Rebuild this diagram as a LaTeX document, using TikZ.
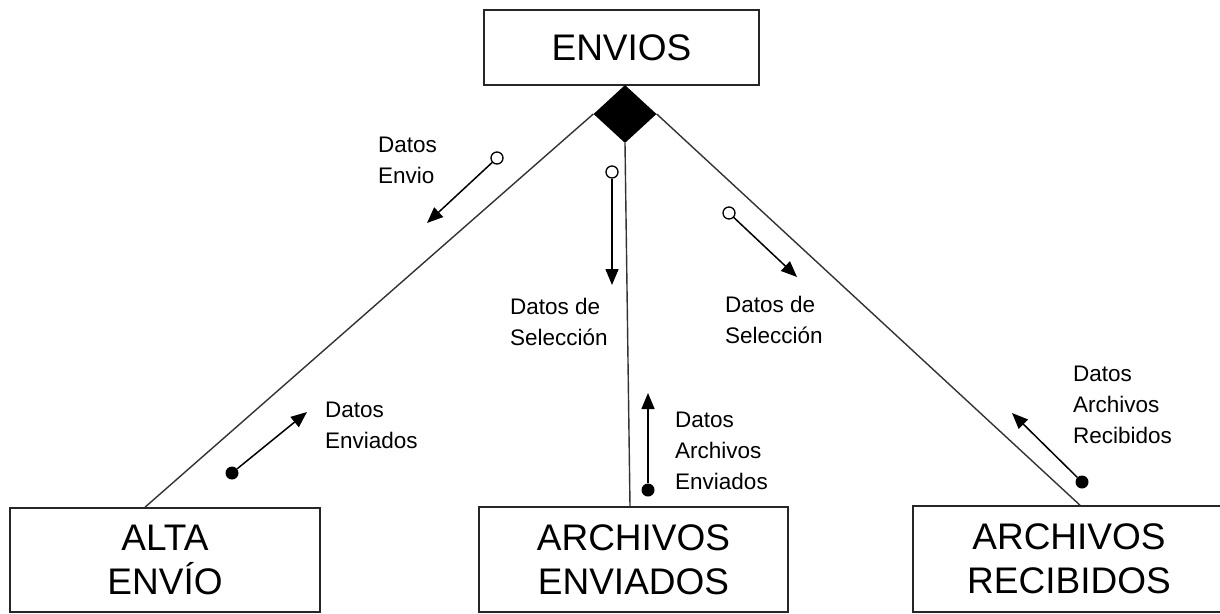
\documentclass[tikz,border=0pt]{standalone}
\usepackage{fontspec}
\setmainfont{Liberation Sans}
\usetikzlibrary{shapes.geometric,arrows.meta}
\begin{document}
\begin{tikzpicture}[x=1pt,y=-1pt,
 box/.style={draw=black!85,line width=1.6pt,inner sep=0pt,align=center,font=\fontsize{37}{44}\selectfont},
 conn/.style={draw=black!80,line width=1.4pt},
 flow/.style={line width=1.5pt,-{Triangle[length=16pt,width=13pt]}},
 ocirc/.style={circle,draw,line width=1.3pt,fill=white,inner sep=0pt,minimum size=12pt},
 fdot/.style={circle,fill=black,inner sep=0pt,minimum size=13pt},
 lbl/.style={anchor=base west,align=left,inner sep=0pt,font=\fontsize{22.5}{31}\selectfont}]
\clip (0,0) rectangle (1220,613);
\fill[white] (0,0) rectangle (1220,613);

\node[box,minimum width=275pt,minimum height=75pt] (envios) at (621.5,47.5) {ENVIOS};
\node[box,minimum width=310pt,minimum height=104pt] (alta) at (165,560) {ALTA\\ENVÍO};
\node[box,minimum width=309pt,minimum height=105pt] (ae) at (633.5,559.5) {ARCHIVOS\\ENVIADOS};
\node[box,minimum width=312pt,minimum height=106pt] (ar) at (1069,559) {ARCHIVOS\\RECIBIDOS};
\node[diamond,fill=black,inner sep=0pt,minimum width=63pt,minimum height=58pt] (dia) at (625,114) {};

\draw[conn] (dia.west) -- ([xshift=-20pt]alta.north);
\draw[conn] (dia.south) -- ([xshift=-3.5pt]ae.north);
\draw[conn] (dia.east) -- ([xshift=11pt]ar.north);

\node[ocirc] (o1) at (497,158) {};
\coordinate (t1) at (427,223);
\draw[flow] (o1) -- (t1);
\node[lbl] (l1) at (378,183) {Datos\\Envio};

\node[ocirc] (o2) at (612,172) {};
\coordinate (t2) at (612,285);
\draw[flow] (o2) -- (t2);
\node[lbl] (l2) at (510,345) {Datos de\\Selección};

\node[ocirc] (o3) at (729,213) {};
\coordinate (t3) at (797,277);
\draw[flow] (o3) -- (t3);
\node[lbl] (l3) at (725,343) {Datos de\\Selección};

\node[fdot] (d4) at (232,473) {};
\coordinate (t4) at (307,412);
\draw[flow] (d4) -- (t4);
\node[lbl] (l4) at (325,448) {Datos\\Enviados};

\node[fdot] (d5) at (648,490) {};
\coordinate (t5) at (648,393);
\draw[flow] (d5) -- (t5);
\node[lbl] (l5) at (675,489) {Datos\\Archivos\\Enviados};

\node[fdot] (d6) at (1082,482) {};
\coordinate (t6) at (1012,413);
\draw[flow] (d6) -- (t6);
\node[lbl] (l6) at (1073,443) {Datos\\Archivos\\Recibidos};
\end{tikzpicture}
\end{document}
